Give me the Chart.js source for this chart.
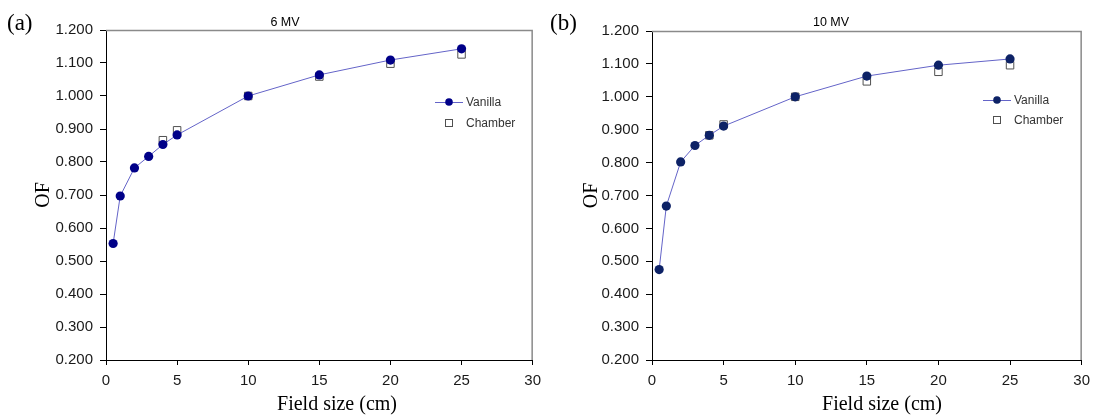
<!DOCTYPE html>
<html>
<head>
<meta charset="utf-8">
<script src="https://cdn.jsdelivr.net/npm/chart.js@4.4.1/dist/chart.umd.min.js"></script>
<style>
  html, body { margin: 0; padding: 0; background: #fff; }
  #wrap { position: relative; width: 1097px; height: 416px; overflow: hidden; }
  .panel { position: absolute; top: 0; height: 416px; }
</style>
</head>
<body>
<div id="wrap">
  <div class="panel" style="left:0;width:548px"><canvas id="chartA"></canvas></div>
  <div class="panel" style="left:548px;width:549px"><canvas id="chartB"></canvas></div>
</div>
<script>
// Output factors vs. field size, measured with Vanilla and with an ion chamber
const fieldSizes   = [0.5, 1, 2, 3, 4, 5, 10, 15, 20, 25];
const chamberSizes = [4, 5, 10, 15, 20, 25];

const vanilla6MV  = [0.553, 0.697, 0.782, 0.817, 0.853, 0.882, 1.000, 1.064, 1.109, 1.143];
const chamber6MV  = [0.866, 0.896, 1.000, 1.059, 1.098, 1.126];

const vanilla10MV = [0.475, 0.668, 0.802, 0.852, 0.883, 0.911, 1.000, 1.063, 1.096, 1.115];
const chamber10MV = [0.883, 0.916, 1.000, 1.047, 1.076, 1.096];

const xTicks = [0, 5, 10, 15, 20, 25, 30];
const yTicks = [0.2, 0.3, 0.4, 0.5, 0.6, 0.7, 0.8, 0.9, 1.0, 1.1, 1.2];

const seriesNames = ['Vanilla', 'Chamber'];
const axisTitleX = 'Field size (cm)';
const axisTitleY = 'OF';

const SANS = '"Liberation Sans", Arial, sans-serif';
const SERIF = '"Liberation Serif", "Times New Roman", serif';

function pairs(xs, ys) {
  return xs.map((x, i) => ({ x: x, y: ys[i] }));
}

// Frame, heading, panel tag, x-axis caption and the in-plot legend
const panelDecor = {
  id: 'panelDecor',
  afterDraw(chart, args, opts) {
    const { ctx, chartArea: a } = chart;
    ctx.save();

    // grey top and right edges of the plot frame
    ctx.strokeStyle = '#8a8a8a';
    ctx.lineWidth = 1.5;
    ctx.beginPath();
    ctx.moveTo(a.left, a.top + 0.5);
    ctx.lineTo(a.right - 0.5, a.top + 0.5);
    ctx.lineTo(a.right - 0.5, a.bottom);
    ctx.stroke();

    // panel tag
    ctx.fillStyle = '#000';
    ctx.font = '23px ' + SERIF;
    ctx.textAlign = 'left';
    ctx.textBaseline = 'alphabetic';
    ctx.fillText(opts.tag, opts.tagX, 30);

    // beam heading
    ctx.font = '12.5px ' + SANS;
    ctx.textAlign = 'center';
    ctx.fillText(opts.heading, opts.headingX, 26);

    // x-axis caption
    ctx.font = '20px ' + SERIF;
    ctx.fillText(axisTitleX, opts.xTitleX, 410);

    // legend
    const ds = chart.data.datasets;
    const lx = opts.legendX, ly = opts.legendY;
    ctx.font = '12px ' + SANS;
    ctx.textAlign = 'left';
    ctx.textBaseline = 'middle';

    ctx.strokeStyle = ds[0].borderColor;
    ctx.lineWidth = 1;
    ctx.beginPath();
    ctx.moveTo(lx - 14, ly + 0.5);
    ctx.lineTo(lx + 14, ly + 0.5);
    ctx.stroke();
    ctx.fillStyle = ds[0].pointBackgroundColor;
    ctx.beginPath();
    ctx.arc(lx, ly, 3.8, 0, Math.PI * 2);
    ctx.fill();
    ctx.fillStyle = '#333';
    ctx.fillText(ds[0].label, lx + 17, ly + 1);

    const cy = ly + opts.legendGap;
    ctx.fillStyle = '#fff';
    ctx.fillRect(lx - 3.5, cy - 3.5, 7, 7);
    ctx.strokeStyle = ds[1].pointBorderColor;
    ctx.lineWidth = 1;
    ctx.strokeRect(lx - 3.5, cy - 3.5, 7, 7);
    ctx.fillStyle = '#333';
    ctx.fillText(ds[1].label, lx + 17, cy + 1);

    ctx.restore();
  }
};

function makePanel(canvasId, vanilla, chamber, markColor, layout, decor) {
  return new Chart(document.getElementById(canvasId), {
    type: 'scatter',
    data: {
      datasets: [
        {
          label: seriesNames[0],
          data: pairs(fieldSizes, vanilla),
          showLine: true,
          borderColor: '#6464c8',
          borderWidth: 1,
          pointStyle: 'circle',
          pointRadius: 4.6,
          pointBackgroundColor: markColor,
          pointBorderColor: markColor,
          pointBorderWidth: 0
        },
        {
          label: seriesNames[1],
          data: pairs(chamberSizes, chamber),
          showLine: false,
          pointStyle: 'rect',
          pointRadius: 5.3,
          pointBackgroundColor: '#ffffff',
          pointBorderColor: '#505050',
          pointBorderWidth: 1
        }
      ]
    },
    options: {
      responsive: true,
      maintainAspectRatio: false,
      animation: false,
      events: [],
      layout: { padding: { left: 0, top: layout.top, right: layout.right, bottom: 0 } },
      plugins: {
        legend: { display: false },
        tooltip: { enabled: false },
        panelDecor: decor
      },
      scales: {
        x: {
          type: 'linear',
          min: xTicks[0],
          max: xTicks[xTicks.length - 1],
          afterBuildTicks(scale) { scale.ticks = xTicks.map(v => ({ value: v })); },
          afterFit(scale) { scale.height = 56; },
          grid: { drawOnChartArea: false, drawTicks: true, tickLength: 5, color: '#000' },
          border: { display: true, color: '#000', width: 1 },
          ticks: {
            padding: 7,
            color: '#1a1a1a',
            font: { family: SANS, size: 15 },
            maxRotation: 0
          }
        },
        y: {
          type: 'linear',
          min: yTicks[0],
          max: yTicks[yTicks.length - 1],
          afterBuildTicks(scale) { scale.ticks = yTicks.map(v => ({ value: v })); },
          afterFit(scale) { scale.width = layout.yWidth; },
          grid: { drawOnChartArea: false, drawTicks: true, tickLength: 6, color: '#000' },
          border: { display: true, color: '#000', width: 1 },
          ticks: {
            padding: 7,
            color: '#1a1a1a',
            font: { family: SANS, size: 15 },
            callback: v => Number(v).toFixed(3)
          },
          title: {
            display: true,
            text: axisTitleY,
            color: '#000',
            font: { family: SERIF, size: 20 },
            padding: { top: 32, bottom: 0 }
          }
        }
      }
    },
    plugins: [panelDecor]
  });
}

makePanel('chartA', vanilla6MV, chamber6MV, '#000088',
  { top: 30, right: 12, yWidth: 106 },
  { tag: '(a)', tagX: 7, heading: '6 MV', headingX: 285, xTitleX: 337,
    legendX: 449, legendY: 102, legendGap: 21 });

makePanel('chartB', vanilla10MV, chamber10MV, '#0d2266',
  { top: 31, right: 15, yWidth: 104 },
  { tag: '(b)', tagX: 2, heading: '10 MV', headingX: 283, xTitleX: 334,
    legendX: 449, legendY: 100, legendGap: 20 });
</script>
</body>
</html>
